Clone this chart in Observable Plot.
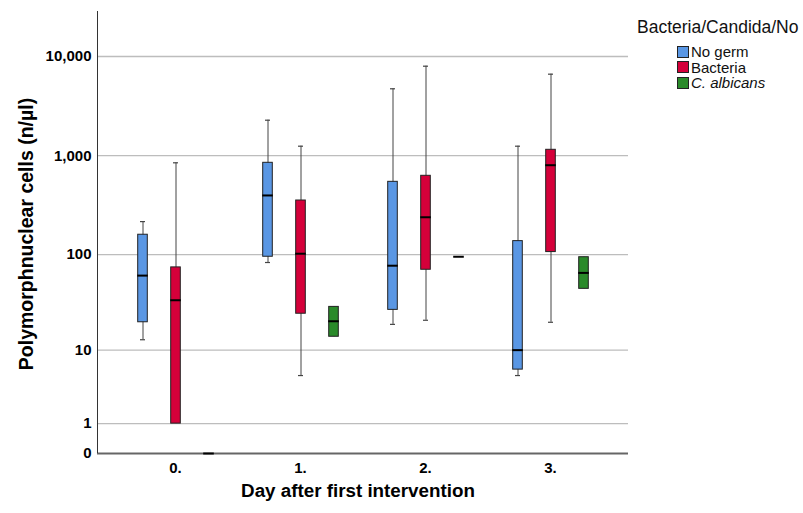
<!DOCTYPE html>
<html>
<head>
<meta charset="utf-8">
<script src="https://cdn.jsdelivr.net/npm/d3@7"></script>
<script src="https://cdn.jsdelivr.net/npm/@observablehq/plot@0.6"></script>
<style>
  html, body { margin: 0; padding: 0; background: #fff; }
  #wrap { position: relative; width: 803px; height: 513px; font-family: "Liberation Sans", Arial, sans-serif; }
  #back, #front { position: absolute; left: 0; top: 0; }
  #back svg, #front svg { display: block; }
  .ytitle { position: absolute; left: 26px; top: 234px; transform: translate(-50%, -50%) rotate(-90deg); font-size: 19.5px; font-weight: bold; white-space: nowrap; color: #000; }
  .xtitle { position: absolute; left: 358px; top: 491px; transform: translate(-50%, -50%); font-size: 18.8px; font-weight: bold; white-space: nowrap; color: #000; }
  .legend { position: absolute; left: 637px; top: 17px; color: #111; }
  .legend .ltitle { font-size: 17.5px; white-space: nowrap; }
  .legend .items { margin-left: 40px; margin-top: 6px; }
  .legend .item { font-size: 15px; line-height: 15.5px; display: flex; align-items: center; white-space: nowrap; }
  .legend .sw { width: 10px; height: 10px; border: 1px solid #222; margin-right: 2px; }
</style>
</head>
<body>
<div id="wrap">
  <div id="back"></div>
  <div id="front"></div>
  <div class="ytitle">Polymorphnuclear cells (n/µl)</div>
  <div class="xtitle">Day after first intervention</div>
  <div class="legend" id="legend"></div>
</div>
<script>
// Categories
const days = ["0.", "1.", "2.", "3."];
const groups = ["No germ", "Bacteria", "C. albicans"];
const groupColors = ["#5A97E4", "#D5003A", "#2A8A2A"];
const legendTitle = "Bacteria/Candida/No";

// Five-number summaries per day: [min, q1, median, q3, max]
const noGerm = [
  [13, 20, 61, 159, 216],
  [83, 95, 397, 848, 2280],
  [19, 27, 77, 545, 4726],
  [5.1, 6, 10, 137, 1247]
];
const bacteria = [
  [1, 1, 34, 74, 848],
  [5.1, 24.6, 102, 353, 1247],
  [21, 70, 239, 627, 7984],
  [20, 106, 802, 1147, 6634]
];
const albicans = [
  [0, 0, 0, 0, 0],
  [14, 14, 20.5, 29, 29],
  [95, 95, 95, 95, 95],
  [44.6, 44.6, 65, 94, 94]
];

// Axis ticks
const yTicks = [0, 1, 10, 100, 1000, 10000];
const gridTicks = [1, 10, 100, 1000, 10000];
const yMax = 28400;

const seriesList = [noGerm, bacteria, albicans];
const rows = [];
seriesList.forEach((s, gi) => {
  s.forEach((v, di) => {
    rows.push({day: days[di], group: groups[gi], min: v[0], q1: v[1], median: v[2], q3: v[3], max: v[4]});
  });
});
const lowCaps = rows.filter(d => d.min < d.q1);
const highCaps = rows.filter(d => d.max > d.q3);

const fmt = d3.format(",");
const dims = {width: 803, height: 513, marginLeft: 97, marginRight: 175, marginTop: 11, marginBottom: 60};
const yScale = {type: "symlog", domain: [0, yMax]};

// Background layer: grid, axis lines, y tick labels
const back = Plot.plot({
  ...dims,
  style: {fontFamily: "Liberation Sans, Arial, sans-serif", color: "#000", background: "#fff"},
  x: {domain: [0, 1], axis: null},
  y: {...yScale, axis: null},
  marks: [
    Plot.ruleY(gridTicks, {y: d => d, stroke: "#bdbdbd", strokeWidth: 1.3}),
    Plot.ruleY([0], {y: d => d, stroke: "#666", strokeWidth: 2}),
    Plot.ruleX([0], {x: d => d, stroke: "#333", strokeWidth: 1}),
    Plot.axisY({ticks: yTicks, tickFormat: fmt, tickSize: 0, tickPadding: 6, fontSize: 15, fontWeight: "bold", label: null})
  ]
});
document.getElementById("back").appendChild(back);

// Foreground layer: boxes per day (facets) and group (x)
const front = Plot.plot({
  ...dims,
  style: {fontFamily: "Liberation Sans, Arial, sans-serif", color: "#000", background: "transparent"},
  fx: {domain: days, paddingInner: 0.2, paddingOuter: 0.224, label: null},
  x: {domain: groups, padding: 0, axis: null},
  y: {...yScale, axis: null},
  color: {domain: groups, range: groupColors},
  marks: [
    Plot.ruleX(rows, {fx: "day", x: "group", y1: "min", y2: "max", stroke: "#444", strokeWidth: 1}),
    Plot.tickY(lowCaps, {fx: "day", x: "group", y: "min", stroke: "#444", strokeWidth: 1.2, insetLeft: 14, insetRight: 14}),
    Plot.tickY(highCaps, {fx: "day", x: "group", y: "max", stroke: "#444", strokeWidth: 1.2, insetLeft: 14, insetRight: 14}),
    Plot.barY(rows, {fx: "day", x: "group", y1: "q1", y2: "q3", fill: "group", stroke: "#222", strokeWidth: 1, insetLeft: 11.7, insetRight: 11.7, insetTop: 0, insetBottom: 0}),
    Plot.tickY(rows, {fx: "day", x: "group", y: "median", stroke: "#000", strokeWidth: 2, insetLeft: 11.2, insetRight: 11.2}),
    Plot.axisFx({anchor: "bottom", tickSize: 0, tickPadding: 9, fontSize: 15, fontWeight: "bold", label: null})
  ]
});
document.getElementById("front").appendChild(front);

// Legend (HTML, built from the same arrays)
const legend = document.getElementById("legend");
const t = document.createElement("div");
t.className = "ltitle";
t.textContent = legendTitle;
legend.appendChild(t);
const items = document.createElement("div");
items.className = "items";
groups.forEach((g, i) => {
  const it = document.createElement("div");
  it.className = "item";
  const sw = document.createElement("span");
  sw.className = "sw";
  sw.style.background = groupColors[i];
  const lab = document.createElement("span");
  lab.textContent = g;
  if (g.startsWith("C.")) lab.style.fontStyle = "italic";
  it.appendChild(sw);
  it.appendChild(lab);
  items.appendChild(it);
});
legend.appendChild(items);
</script>
</body>
</html>
